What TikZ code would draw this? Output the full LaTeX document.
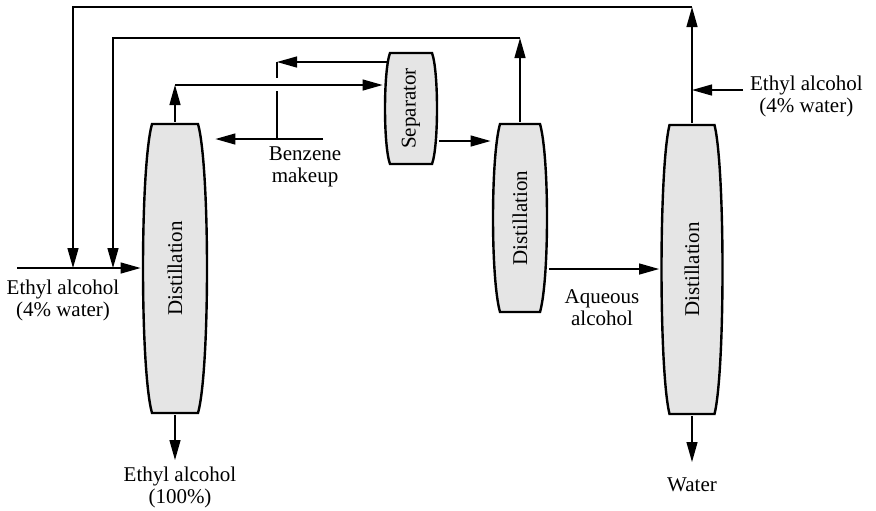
\documentclass[tikz,border=0pt]{standalone}
\usepackage{fontspec}
\setmainfont{Liberation Serif}
\usepackage{graphicx}
\usetikzlibrary{arrows.meta,calc}

\tikzset{
  % barrel shaped vessel: #1 corner inset, #2 curve depth (px)
  column/.style 2 args={inner sep=0pt, path picture={
      \filldraw[fill=gray!20, draw=black, line width=1.2pt]
        ([shift={(2+#1,2)}]path picture bounding box.north west)
        -- ([shift={(-2-#1,2)}]path picture bounding box.north east)
        .. controls ([shift={({-(6-#1)/3},#2)}]path picture bounding box.north east)
        and ([shift={({-(6-#1)/3},-#2)}]path picture bounding box.south east)
        .. ([shift={(-2-#1,-2)}]path picture bounding box.south east)
        -- ([shift={(2+#1,-2)}]path picture bounding box.south west)
        .. controls ([shift={({(6-#1)/3},-#2)}]path picture bounding box.south west)
        and ([shift={({(6-#1)/3},#2)}]path picture bounding box.north west)
        .. cycle;
  }},
  pipe/.style={line width=0.65pt},
  stream/.style={pipe, -{Triangle[length=10pt,width=5.5pt]}},
  lbl/.style={align=center}
}

\begin{document}
\begin{tikzpicture}[x=0.5pt, y=-0.5pt,
    every node/.style={font=\fontsize{10.5}{11}\selectfont}]
  \useasboundingbox (0,0) rectangle (876,510);

  % vessels
  \node[column={9}{45}, minimum width=34pt, minimum height=146.5pt] (dist1) at (175,268.5) {\rotatebox{90}{Distillation}};
  \node[column={5}{20}, minimum width=28pt, minimum height=57.5pt] (sep) at (411,108.5) {\rotatebox{90}{Separator}};
  \node[column={7}{35}, minimum width=29pt, minimum height=96pt] (dist2) at (520,218) {\rotatebox{90}{Distillation}};
  \node[column={8}{45}, minimum width=32.5pt, minimum height=146.5pt] (dist3) at (692,269.5) {\rotatebox{90}{Distillation}};

  % labels
  \node[lbl] (feedin) at (63,300) {Ethyl alcohol\\(4\% water)};
  \node[lbl] (benzene) at (305,167) {Benzene\\makeup};
  \node[lbl] (product) at (180,487.5) {Ethyl alcohol\\(100\%)};
  \node[lbl] (aqueous) at (602,307.5) {Aqueous\\alcohol};
  \node[lbl] (water) at (692,485) {Water};
  \node[lbl, anchor=west] (feedtop) at (743,96) {Ethyl alcohol\\(4\% water)};

  % points of the piping
  \coordinate (feed) at (17,268);
  \coordinate (top3) at (dist3.north |- 0,7);
  \coordinate (drop3) at (73,268);
  \coordinate (top2) at (dist2.north |- 0,38);
  \coordinate (drop2) at (113,268);
  \coordinate (top1) at (dist1.north |- 0,85);
  \coordinate (bend) at (277,62);
  \coordinate (sepret) at ($(sep.west |- bend)+(5,0)$);
  \coordinate (hopA) at (277,78);
  \coordinate (hopB) at (277,91);
  \coordinate (bzjoin) at (277,139);
  \coordinate (bzin) at (323,139);
  \coordinate (sepdown) at (0,141);
  \coordinate (aq) at (0,269);
  \coordinate (side3) at (0,90);
  \coordinate (out1) at (dist1.south |- 0,460);
  \coordinate (out3) at (dist3.south |- 0,462);

  % feed and recycles
  \draw[stream] (feed) -- (dist1.west |- feed);
  \draw[stream] (dist3.north) -- (top3);
  \draw[stream] (top3) -| (drop3);
  \draw[stream] (dist2.north) -- (top2);
  \draw[stream] (top2) -| (drop2);

  % overhead of first column through separator
  \draw[stream] (dist1.north) -- (top1);
  \draw[stream] (top1) -- (sep.west |- top1);
  \draw[stream] (sepret) -- (bend);
  \draw[pipe] (bend) -- (hopA);
  \draw[pipe] (hopB) -- (bzjoin);
  \draw[stream, shorten >=3pt] (bzin) -- (dist1.east |- bzin);
  \draw[stream] (sep.east |- sepdown) -- (dist2.west |- sepdown);

  % second and third columns
  \draw[stream] (dist2.east |- aq) -- (dist3.west |- aq);
  \draw[stream] (feedtop.west |- side3) -- (dist3.north |- side3);

  % bottoms
  \draw[stream] (dist1.south) -- (out1);
  \draw[stream] (dist3.south) -- (out3);
\end{tikzpicture}
\end{document}
